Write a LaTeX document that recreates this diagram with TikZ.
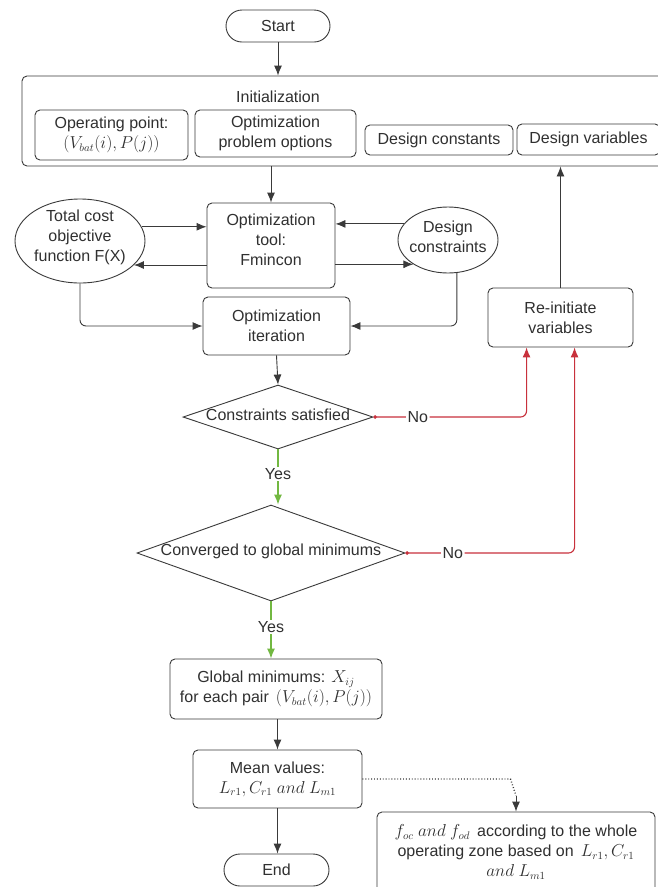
\documentclass[tikz,border=0pt]{standalone}
\usepackage{fontspec}
\setmainfont{Liberation Sans}
\usetikzlibrary{arrows.meta,shapes.geometric,calc}
\definecolor{linec}{HTML}{3A3A3A}
\definecolor{txtc}{HTML}{303030}
\definecolor{redc}{HTML}{C8313C}
\definecolor{greenc}{HTML}{72B841}
\begin{document}
\begin{tikzpicture}[x=1pt,y=-1pt,
  font=\fontsize{16}{20}\selectfont, text=txtc,
  every path/.style={line width=0.9pt},
  box/.style={draw=linec, rounded corners=5pt, align=center, inner sep=0pt},
  pill/.style={draw=linec, rounded corners=16pt, align=center, inner sep=0pt, minimum height=32pt},
  shp/.style={draw=linec, inner sep=0pt},
  lbl/.style={align=center, inner sep=0pt},
  arr/.style={draw=linec, -{Latex[length=10pt,width=8pt]}},
  redarr/.style={draw=redc, line width=1.1pt, {Circle[length=3.5pt]}-{Latex[length=10pt,width=8pt]}, rounded corners=6pt},
  greenarr/.style={draw=greenc, line width=1.1pt, -{Latex[length=10pt,width=8pt]}},
  onlabel/.style={fill=white, inner sep=1.5pt, text=txtc}]
\useasboundingbox[fill=white] (0,0) rectangle (657,887);

% Start
\node[pill, minimum width=104pt] (start) at (278,26) {Start};

% Initialization container
\node[box, minimum width=642pt, minimum height=90pt] (init) at (343,121) {};
\node[lbl] (inittxt) at (278,97) {Initialization};
\node[box, minimum width=153pt, minimum height=50pt] (op) at (111.5,135) {Operating point:\\$(V_{bat}(i),P(j))$};
\node[box, minimum width=161pt, minimum height=47pt] (opo) at (275.5,133.5) {Optimization\\problem options};
\node[box, minimum width=148pt, minimum height=30pt] (dcst) at (439,140) {Design constants};
\node[box, minimum width=143pt, minimum height=31pt] (dvar) at (588.5,139.5) {Design variables};

% Optimization tool and ellipses
\node[box, minimum width=128pt, minimum height=85pt] (tool) at (271,245.5) {};
\node[lbl] (tooltxt) at (271,240) {Optimization\\tool:\\Fmincon};
\node[shp, ellipse, minimum width=130pt, minimum height=84pt] (tc) at (80,241) {};
\node[lbl] (tctxt) at (80,237) {Total cost\\objective\\function F(X)};
\node[shp, ellipse, minimum width=100pt, minimum height=66pt] (dc) at (448,240) {};
\node[lbl] (dctxt) at (448,237) {Design\\constraints};

% Optimization iteration
\node[box, minimum width=147pt, minimum height=58pt] (iter) at (276.5,326) {Optimization\\iteration};

% Re-initiate
\node[box, minimum width=145pt, minimum height=59pt] (ri) at (560.5,317.5) {Re-initiate\\variables};
\coordinate (rin1) at ($(ri.south west)+(39,0)$);
\coordinate (rin2) at ($(ri.south west)+(87,0)$);

% Diamonds
\node[shp, diamond, minimum width=190pt, minimum height=64pt] (d1) at (278,417) {};
\node[lbl] (d1txt) at (278,415) {Constraints satisfied};
\node[shp, diamond, minimum width=268pt, minimum height=96pt] (d2) at (271,553) {};
\node[lbl] (d2txt) at (271,551) {Converged to global minimums};

% Lower boxes
\node[box, minimum width=212pt, minimum height=60pt] (gm) at (276,689) {Global minimums: $X_{ij}$\\for each pair \,$(V_{bat}(i),P(j))$};
\node[box, minimum width=169pt, minimum height=58pt] (mv) at (277.5,779) {Mean values:\\$L_{r1},C_{r1}\ and\ L_{m1}$};
\node[pill, minimum width=105pt] (end) at (276.5,870) {End};
\node[box, minimum width=278pt, minimum height=84pt] (fb) at (516,854) {};
\node[lbl] (fbtxt) at (516,852) {$f_{oc}\ and\ f_{od}$\, according to the whole\\operating zone based on \,$L_{r1},C_{r1}$\\$and\ L_{m1}$};

% Connectors
\draw[arr] (start) -- (start.south |- init.north);
\draw[arr] (tool.north |- init.south) -- (tool.north);
\draw[arr] (tc.13) -- (tc.13 -| tool.west);
\draw[arr] (tool.west |- tc.-24) -- (tc.-24);
\draw[arr] (dc.160) -- (dc.160 -| tool.east);
\draw[arr] (tool.east |- dc.215) -- (dc.215);
\draw[arr, rounded corners=6pt] (tc.south) |- (iter.west);
\draw[arr, rounded corners=6pt] (dc.-75) |- (iter.east);
\draw[arr] (iter.south) -- (d1.north);
\draw[arr] (ri.north) -- (ri.north |- init.south);

\draw[redarr] (d1.east) -- node[onlabel, pos=0.29]{No} (rin1 |- d1.east) -- (rin1);
\draw[redarr] (d2.east) -- node[onlabel, pos=0.28]{No} (rin2 |- d2.east) -- (rin2);

\draw[greenarr] (d1.south) -- node[onlabel, pos=0.45]{Yes} (d1.south |- d2.north);
\draw[greenarr] (d2.south) -- node[onlabel, pos=0.45]{Yes} (d2.south |- gm.north);

\draw[arr] (gm.south -| mv.north) -- (mv.north);
\draw[arr] (mv.south) -- (mv.south |- end.north);

\coordinate (dk) at ($(fb.north)+(0,-16)$);
\draw[draw=linec, dotted, line width=1.4pt] (mv.east) -- ($(mv.east)+(148,0)$) -- (dk);
\draw[arr] (dk) -- (fb.north);
\end{tikzpicture}
\end{document}
